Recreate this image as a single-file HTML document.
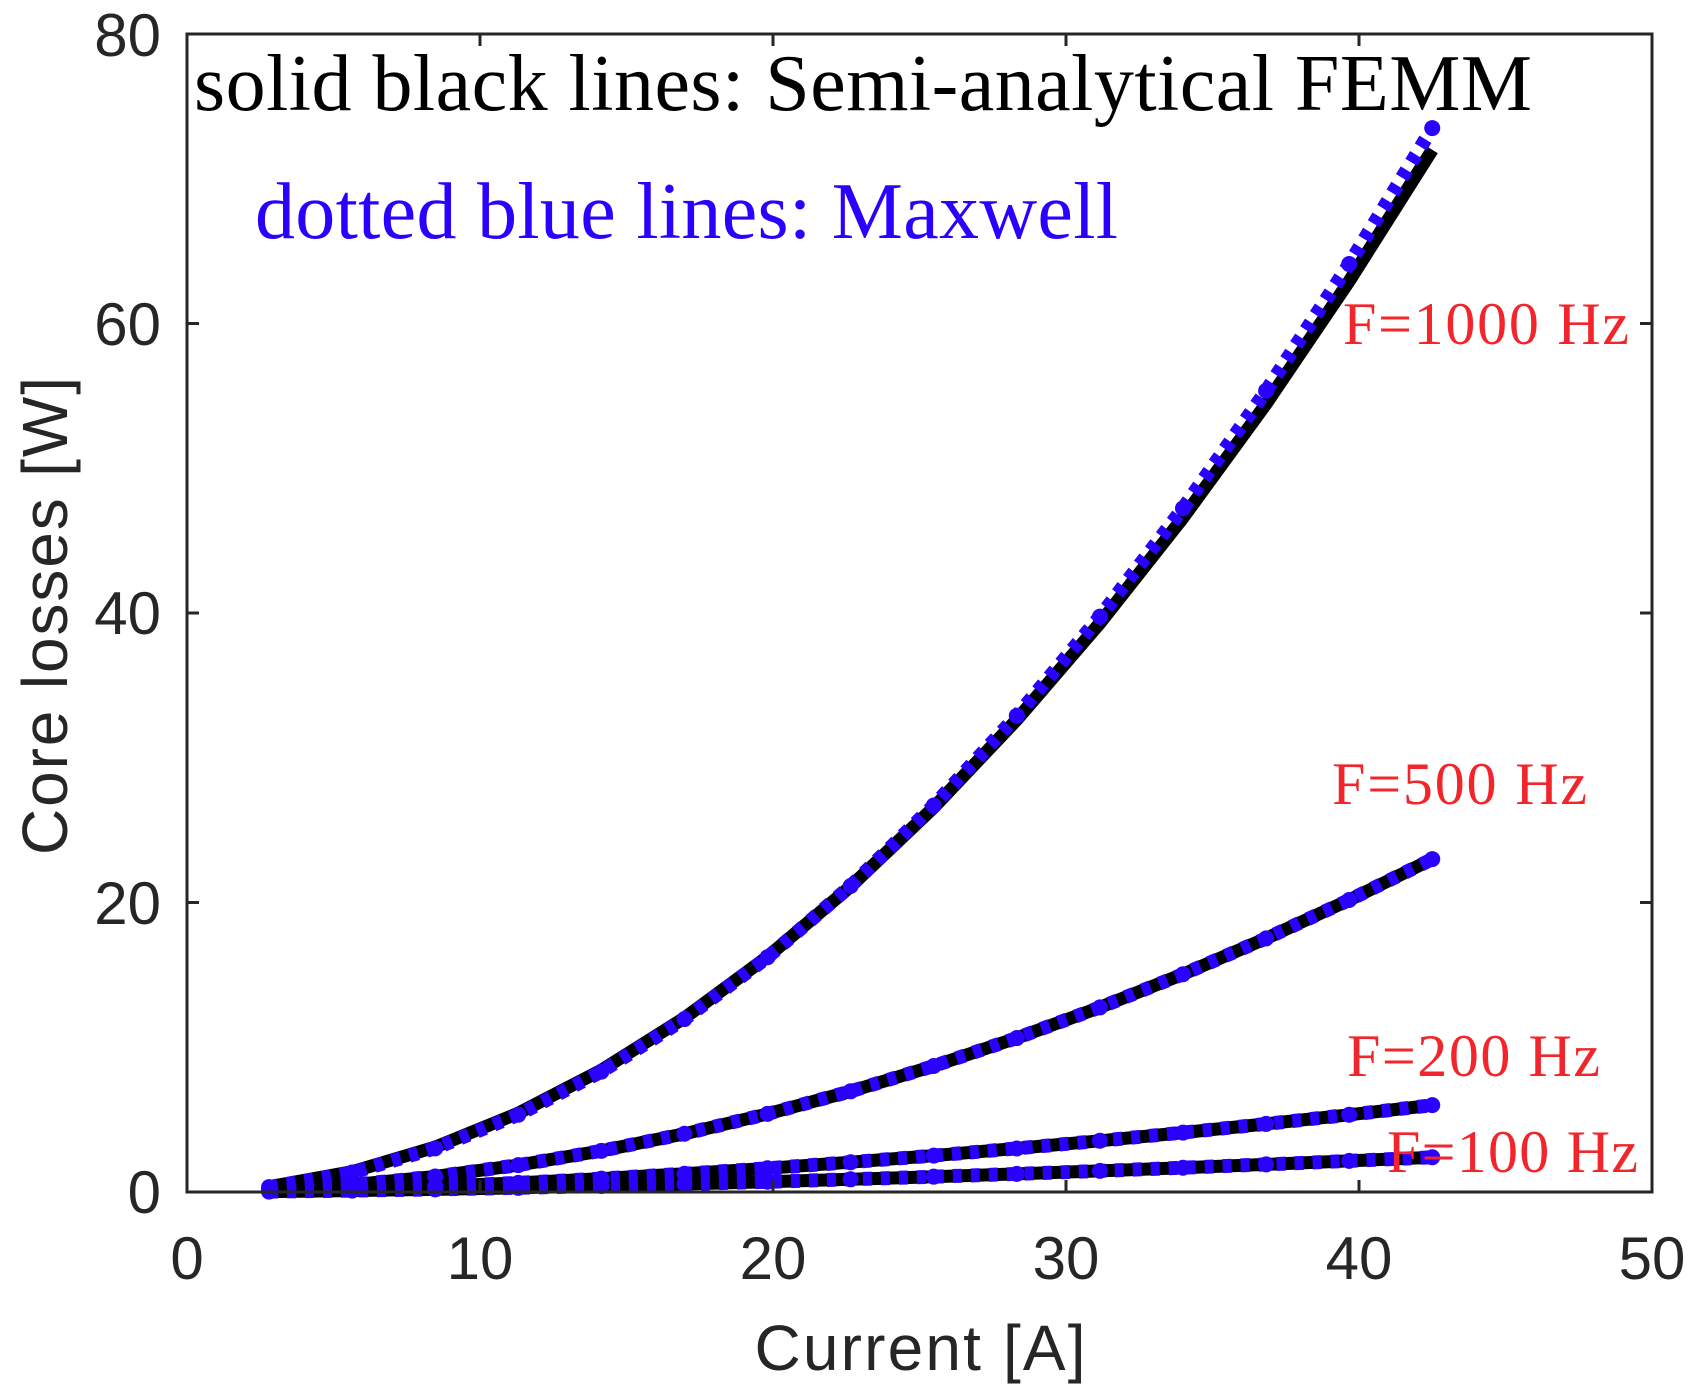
<!DOCTYPE html>
<html><head><meta charset="utf-8"><style>
html,body{margin:0;padding:0;background:#fff;}
svg{display:block;}
</style></head><body>
<svg id="s" width="1694" height="1399" viewBox="0 0 1694 1399" xmlns="http://www.w3.org/2000/svg">
<rect width="1694" height="1399" fill="#fff"/>
<g id="curves"></g>
<g stroke="#262626" stroke-width="3" fill="none">
<rect x="187" y="34" width="1465" height="1158"/>
<path d="M480,1192v-12M773,1192v-12M1066,1192v-12M1359,1192v-12M480,34v12M773,34v12M1066,34v12M1359,34v12
M187,902.5h12M187,613h12M187,323.5h12M1652,902.5h-12M1652,613h-12M1652,323.5h-12"/>
</g>
<g font-family="Liberation Sans, Arial, sans-serif" font-size="60" fill="#262626">
<g text-anchor="end">
<text x="161" y="1213">0</text><text x="161" y="924">20</text><text x="161" y="634">40</text><text x="161" y="345">60</text><text x="161" y="56">80</text>
</g>
<g text-anchor="middle">
<text x="187" y="1279">0</text><text x="480" y="1279">10</text><text x="773" y="1279">20</text><text x="1066" y="1279">30</text><text x="1359" y="1279">40</text><text x="1652" y="1279">50</text>
</g>
<text x="920" y="1370" text-anchor="middle" font-size="64" textLength="331">Current [A]</text>
<text transform="translate(67,616) rotate(-90)" text-anchor="middle" font-size="64" textLength="478">Core losses [W]</text>
</g>
<g font-family="Liberation Serif, 'Times New Roman', serif">
<text x="194" y="110" font-size="80" fill="#000" textLength="1338">solid black lines: Semi-analytical FEMM</text>
<text x="255" y="238" font-size="80" fill="#2a00ff" textLength="863">dotted blue lines: Maxwell</text>
<g font-size="60" fill="#f2252b">
<text x="1343" y="344" textLength="286">F=1000 Hz</text>
<text x="1332" y="804" textLength="255">F=500 Hz</text>
<text x="1347" y="1076" textLength="253">F=200 Hz</text>
<text x="1387" y="1172" textLength="251">F=100 Hz</text>
</g>
</g>
</svg>
<script>
(function(){
var g=document.getElementById('curves');var NS='http://www.w3.org/2000/svg';
function X(v){return 187+v*29.3;}function Y(v){return 1192-v*14.475;}
var curves=[[72,1.95,73.5,1.98],[23,1.9,23,1.9],[6,1.7,6,1.7],[2.4,1.6,2.4,1.6]];
var xs=[];for(var i=0;i<15;i++)xs.push(2.8+i*(42.5-2.8)/14);
function pts(a,e){var s=[];for(var i=0;i<xs.length;i++){var x=xs[i];s.push(X(x).toFixed(1)+','+Y(a*Math.pow(x/42.5,e)).toFixed(1));}return s.join(' ');}
curves.forEach(function(c){
var b=document.createElementNS(NS,'polyline');b.setAttribute('points',pts(c[0],c[1]));
b.setAttribute('fill','none');b.setAttribute('stroke','#000');b.setAttribute('stroke-width','13');b.setAttribute('stroke-linejoin','round');g.appendChild(b);
});
curves.forEach(function(c){
var b=document.createElementNS(NS,'polyline');b.setAttribute('points',pts(c[2],c[3]));
b.setAttribute('fill','none');b.setAttribute('stroke','#2a00ff');b.setAttribute('stroke-width','14');b.setAttribute('stroke-dasharray','9 9');g.appendChild(b);
xs.forEach(function(x){var m=document.createElementNS(NS,'circle');m.setAttribute('cx',X(x));m.setAttribute('cy',Y(c[2]*Math.pow(x/42.5,c[3])));m.setAttribute('r','8');m.setAttribute('fill','#2a00ff');g.appendChild(m);});
});
})();
</script>
</body></html>
